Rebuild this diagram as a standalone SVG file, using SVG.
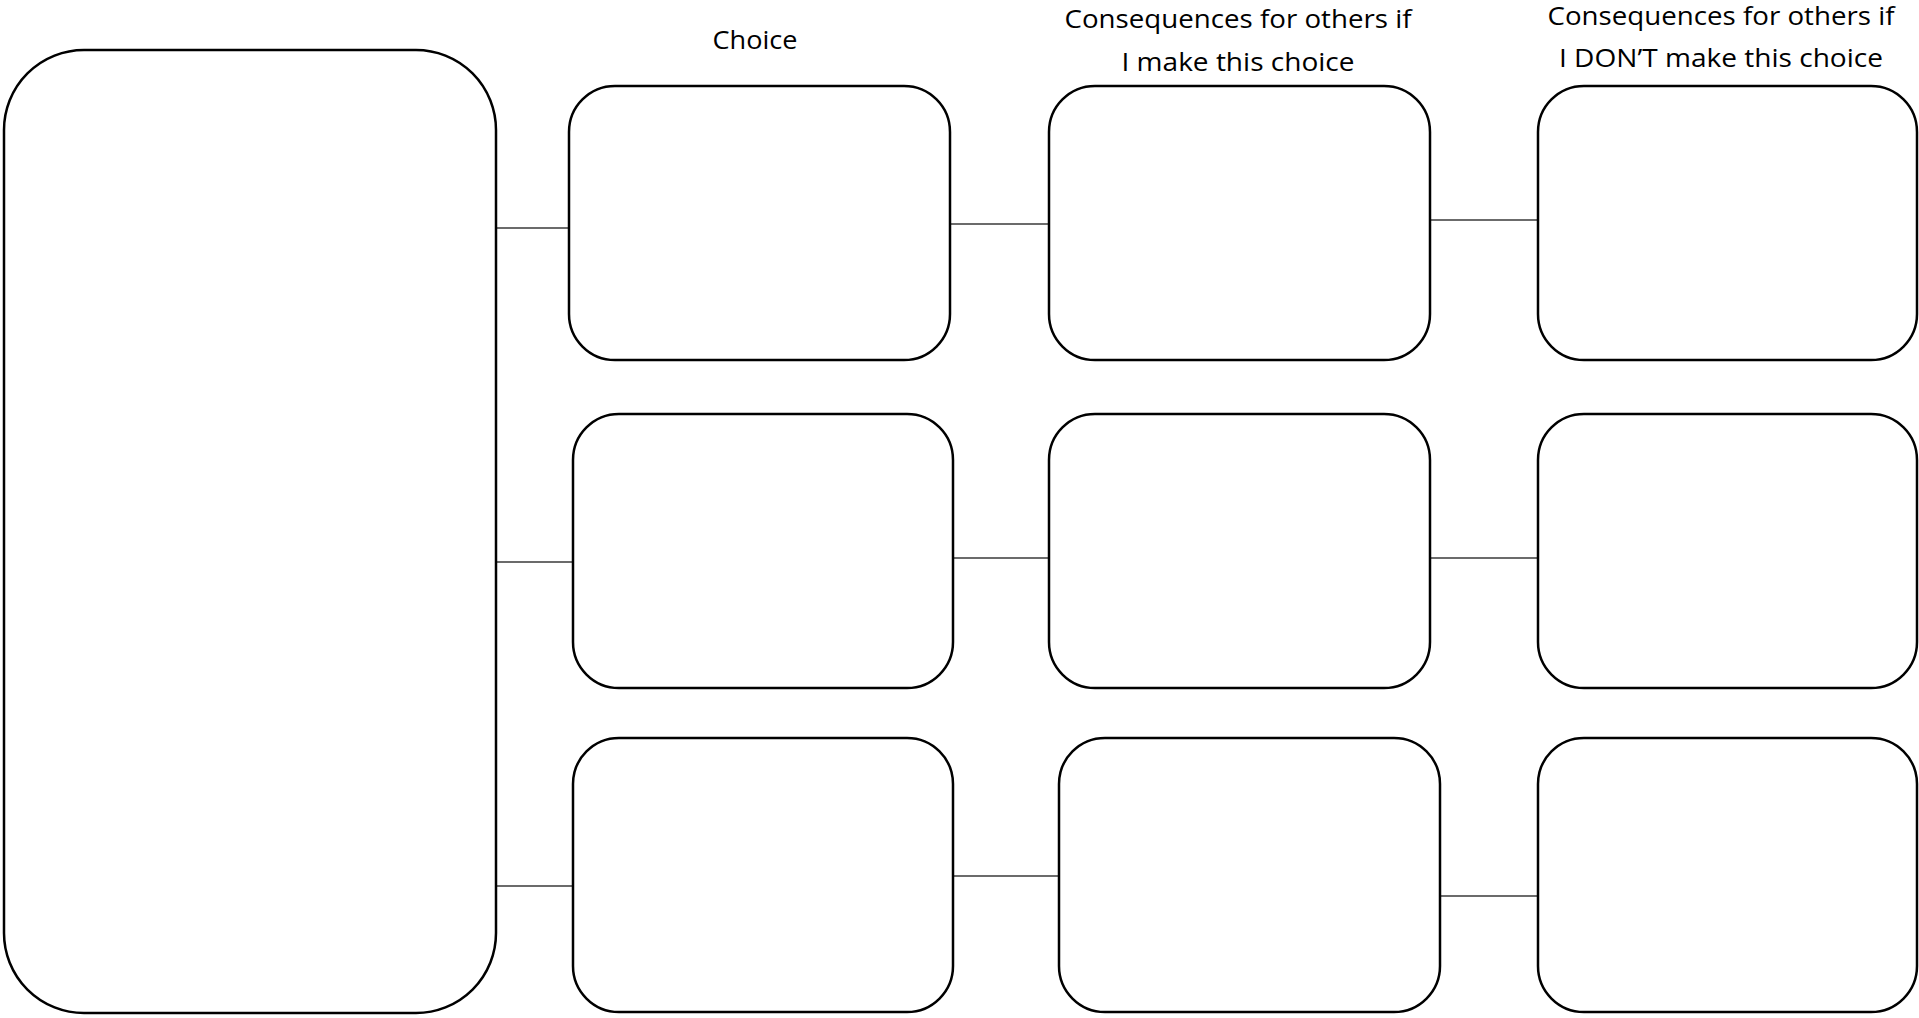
<svg xmlns="http://www.w3.org/2000/svg" width="1919" height="1018" viewBox="0 0 1919 1018">
<style>
.box{fill:#fff;stroke:#000;stroke-width:2.5}
.conn{stroke:#3a3a3a;stroke-width:1.5;fill:none}
.lbl{font-family:"Open Sans","Noto Sans",sans-serif;font-size:26px;fill:#000;text-anchor:middle}
</style>
<rect width="1919" height="1018" fill="#fff"/>
<g id="headers">
<text class="lbl" x="755" y="49" textLength="85" lengthAdjust="spacingAndGlyphs">Choice</text>
<text class="lbl" x="1238" y="28" textLength="347" lengthAdjust="spacingAndGlyphs">Consequences for others if</text>
<text class="lbl" x="1238" y="71" textLength="233" lengthAdjust="spacingAndGlyphs">I make this choice</text>
<text class="lbl" x="1721" y="25" textLength="347" lengthAdjust="spacingAndGlyphs">Consequences for others if</text>
<text class="lbl" x="1721" y="67" textLength="324" lengthAdjust="spacingAndGlyphs">I DON’T make this choice</text>
</g>
<g id="connectors">
<line class="conn" x1="495" y1="228" x2="569" y2="228"/>
<line class="conn" x1="950" y1="224" x2="1049" y2="224"/>
<line class="conn" x1="1430" y1="220" x2="1538" y2="220"/>
<line class="conn" x1="496" y1="562" x2="573" y2="562"/>
<line class="conn" x1="953" y1="558" x2="1049" y2="558"/>
<line class="conn" x1="1430" y1="558" x2="1538" y2="558"/>
<line class="conn" x1="497" y1="886" x2="573" y2="886"/>
<line class="conn" x1="953" y1="876" x2="1059" y2="876"/>
<line class="conn" x1="1440" y1="896" x2="1538" y2="896"/>
</g>
<g id="situation"><rect class="box" x="4" y="50" width="492" height="963" rx="80" ry="80"/></g>
<g id="choice1"><rect class="box" x="569" y="86" width="381" height="274" rx="46" ry="46"/></g>
<g id="make1"><rect class="box" x="1049" y="86" width="381" height="274" rx="46" ry="46"/></g>
<g id="dont1"><rect class="box" x="1538" y="86" width="379" height="274" rx="46" ry="46"/></g>
<g id="choice2"><rect class="box" x="573" y="414" width="380" height="274" rx="46" ry="46"/></g>
<g id="make2"><rect class="box" x="1049" y="414" width="381" height="274" rx="46" ry="46"/></g>
<g id="dont2"><rect class="box" x="1538" y="414" width="379" height="274" rx="46" ry="46"/></g>
<g id="choice3"><rect class="box" x="573" y="738" width="380" height="274" rx="46" ry="46"/></g>
<g id="make3"><rect class="box" x="1059" y="738" width="381" height="274" rx="46" ry="46"/></g>
<g id="dont3"><rect class="box" x="1538" y="738" width="379" height="274" rx="46" ry="46"/></g>
</svg>
